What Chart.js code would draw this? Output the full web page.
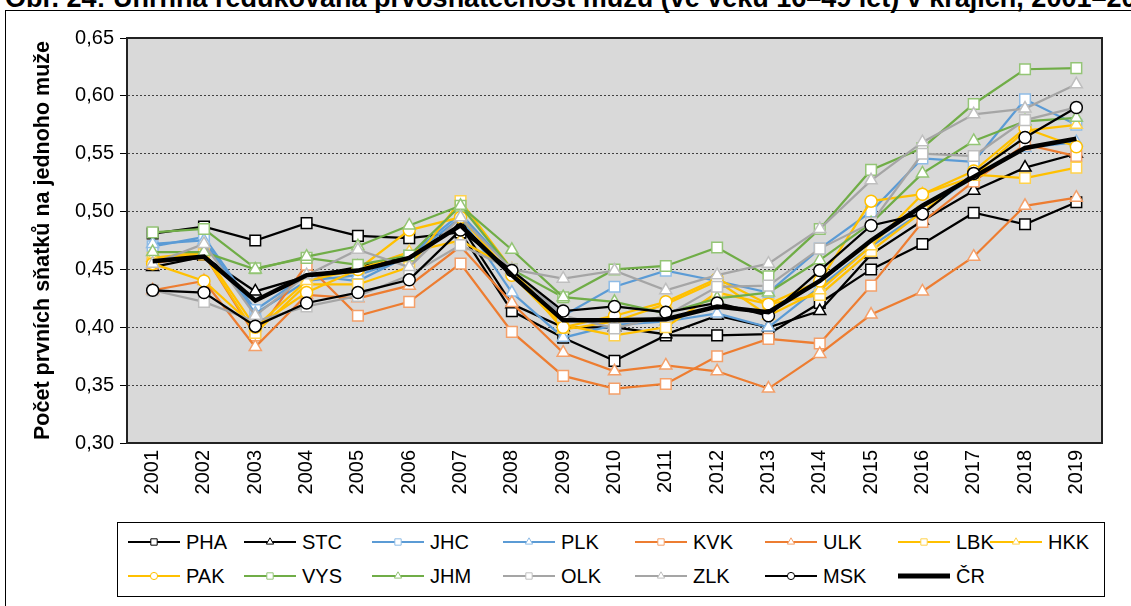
<!DOCTYPE html>
<html>
<head>
<meta charset="utf-8">
<script src="https://cdn.jsdelivr.net/npm/chart.js@4.4.1/dist/chart.umd.min.js"></script>
<style>
body { margin: 0; background: #fff; }
#wrap { position: relative; width: 1131px; height: 606px; overflow: hidden; background: #fff;
        font-family: 'Liberation Sans', Arial, sans-serif; }
#title { position: absolute; left: 5px; top: -17px; line-height: 30px; font-size: 27px; font-weight: bold; white-space: nowrap; }
#frame { position: absolute; left: 5px; top: 10px; width: 1200px; height: 700px; border: 1px solid #000; }
#chart { position: absolute; left: 0; top: 0; }
#legend { position: absolute; left: 117px; top: 522px; width: 986px; height: 73px; border: 1px solid #000; background: #fff; }
.item { position: absolute; height: 20px; display: flex; align-items: center; font-size: 20px; white-space: nowrap; }
.item canvas { margin-right: 6px; }
</style>
</head>
<body>
<div id="wrap">
  <div id="title">Obr. 24: Úhrnná redukovaná prvosňatečnost mužů (ve věku 16–49 let) v krajích, 2001–2019</div>
  <div id="frame"></div>
  <canvas id="chart" width="1131" height="606"></canvas>
  <div id="legend"></div>
</div>
<script>
var years = ['2001', '2002', '2003', '2004', '2005', '2006', '2007', '2008', '2009', '2010',
             '2011', '2012', '2013', '2014', '2015', '2016', '2017', '2018', '2019']

var pha = [0.481, 0.487, 0.475, 0.490, 0.479, 0.477, 0.482, 0.414, 0.391, 0.371, 0.393, 0.393, 0.394, 0.421, 0.450, 0.472, 0.499, 0.489, 0.508]
var stc = [0.452, 0.461, 0.431, 0.444, 0.452, 0.462, 0.488, 0.420, 0.400, 0.400, 0.394, 0.410, 0.400, 0.414, 0.463, 0.492, 0.518, 0.538, 0.550]
var jhc = [0.470, 0.478, 0.415, 0.445, 0.440, 0.462, 0.498, 0.450, 0.410, 0.435, 0.449, 0.440, 0.430, 0.468, 0.500, 0.546, 0.543, 0.597, 0.575]
var plk = [0.472, 0.475, 0.412, 0.440, 0.445, 0.460, 0.495, 0.430, 0.391, 0.402, 0.405, 0.412, 0.400, 0.435, 0.470, 0.500, 0.530, 0.555, 0.560]
var kvk = [0.455, 0.463, 0.393, 0.454, 0.410, 0.422, 0.455, 0.396, 0.358, 0.347, 0.351, 0.375, 0.390, 0.386, 0.436, 0.491, 0.526, 0.558, 0.548]
var ulk = [0.432, 0.440, 0.383, 0.428, 0.425, 0.436, 0.470, 0.421, 0.378, 0.362, 0.367, 0.362, 0.347, 0.377, 0.411, 0.431, 0.461, 0.505, 0.512]
var lbk = [0.460, 0.463, 0.395, 0.437, 0.437, 0.452, 0.509, 0.450, 0.402, 0.393, 0.400, 0.430, 0.420, 0.428, 0.466, 0.500, 0.532, 0.529, 0.538]
var hkk = [0.460, 0.465, 0.400, 0.440, 0.450, 0.465, 0.475, 0.450, 0.398, 0.405, 0.420, 0.440, 0.410, 0.432, 0.470, 0.515, 0.530, 0.570, 0.575]
var pak = [0.455, 0.440, 0.400, 0.430, 0.450, 0.484, 0.495, 0.445, 0.400, 0.410, 0.422, 0.442, 0.420, 0.440, 0.509, 0.515, 0.535, 0.572, 0.556]
var vys = [0.482, 0.485, 0.451, 0.460, 0.454, 0.462, 0.505, 0.450, 0.426, 0.450, 0.453, 0.469, 0.444, 0.485, 0.536, 0.555, 0.593, 0.623, 0.624]
var jhm = [0.465, 0.465, 0.450, 0.461, 0.470, 0.488, 0.505, 0.467, 0.426, 0.422, 0.412, 0.425, 0.430, 0.458, 0.490, 0.533, 0.561, 0.578, 0.581]
var olk = [0.432, 0.422, 0.405, 0.418, 0.427, 0.445, 0.471, 0.450, 0.410, 0.399, 0.410, 0.435, 0.436, 0.468, 0.490, 0.550, 0.548, 0.579, 0.590]
var zlk = [0.455, 0.472, 0.410, 0.445, 0.467, 0.452, 0.495, 0.450, 0.442, 0.449, 0.432, 0.445, 0.455, 0.485, 0.527, 0.560, 0.584, 0.589, 0.610]
var msk = [0.432, 0.430, 0.401, 0.421, 0.430, 0.441, 0.484, 0.449, 0.414, 0.418, 0.413, 0.421, 0.410, 0.449, 0.488, 0.498, 0.533, 0.564, 0.590]
var cr  = [0.457, 0.461, 0.423, 0.445, 0.449, 0.460, 0.488, 0.445, 0.406, 0.406, 0.407, 0.418, 0.413, 0.440, 0.475, 0.505, 0.530, 0.555, 0.563]

var names  = ['PHA', 'STC', 'JHC', 'PLK', 'KVK', 'ULK', 'LBK', 'HKK', 'PAK', 'VYS', 'JHM', 'OLK', 'ZLK', 'MSK', 'ČR']
var series = [pha, stc, jhc, plk, kvk, ulk, lbk, hkk, pak, vys, jhm, olk, zlk, msk, cr]

var yMin = 0.30, yMax = 0.65, yStep = 0.05

// barvy a značky řad
var lineColors   = ['#000000', '#000000', '#5B9BD5', '#5B9BD5', '#ED7D31', '#ED7D31', '#FFC000', '#FFC000',
                    '#FFC000', '#70AD47', '#70AD47', '#A5A5A5', '#A5A5A5', '#000000', '#000000']
var markerColors = ['#000000', '#000000', '#8FBCE6', '#8FBCE6', '#F4A06A', '#F4A06A', '#FFD24D', '#FFD24D',
                    '#FFC000', '#94C576', '#94C576', '#BFBFBF', '#BFBFBF', '#000000', '#000000']
var shapes = ['rect', 'triangle', 'rect', 'triangle', 'rect', 'triangle', 'rect', 'triangle',
              'circle', 'rect', 'triangle', 'rect', 'triangle', 'circle', null]

function markerRadius(shape) {
    if (shape == 'rect') return 7.5
    if (shape == 'triangle') return 7
    if (shape == 'circle') return 6
    return 0
}

var datasets = names.map(function (name, i) {
    return {
        label: name,
        data: series[i],
        borderColor: lineColors[i],
        borderWidth: shapes[i] ? 2.25 : 4.5,
        pointStyle: shapes[i] || 'circle',
        pointRadius: markerRadius(shapes[i]),
        pointHoverRadius: markerRadius(shapes[i]),
        pointBackgroundColor: '#ffffff',
        pointBorderColor: markerColors[i],
        pointBorderWidth: 1.5,
        tension: 0,
        order: -i
    }
})

//Pozadí a rámeček grafu//
var plotFrame = {
    id: 'plotFrame',
    beforeDraw: function (chart) {
        var a = chart.chartArea
        var ctx = chart.ctx
        ctx.save()
        ctx.fillStyle = '#D9D9D9'
        ctx.fillRect(a.left, a.top, a.right - a.left, a.bottom - a.top)
        ctx.restore()
    },
    afterDraw: function (chart) {
        var a = chart.chartArea
        var ctx = chart.ctx
        ctx.save()
        ctx.strokeStyle = '#222'
        ctx.lineWidth = 2
        ctx.strokeRect(a.left, a.top, a.right - a.left, a.bottom - a.top)
        ctx.restore()
    }
}

var ctxChart = document.getElementById('chart')

var chart = new Chart(ctxChart, {
    type: 'line',
    data: {
        labels: years,
        datasets: datasets
    },
    plugins: [plotFrame],
    options: {
        responsive: false,
        animation: false,
        events: [],
        layout: {
            padding: { left: 27, right: 29, top: 38, bottom: 103 }
        },
        plugins: {
            legend: { display: false },
            tooltip: { enabled: false }
        },
        scales: {
            x: {
                offset: true,
                afterFit: function (scale) { scale.height = 60 },
                grid: { display: false, drawTicks: false },
                border: { display: true, color: '#000', width: 2 },
                ticks: {
                    autoSkip: false,
                    minRotation: 90,
                    maxRotation: 90,
                    padding: 7,
                    color: '#000',
                    font: { family: "'Liberation Sans', Arial, sans-serif", size: 20 }
                }
            },
            y: {
                min: yMin,
                max: yMax,
                afterFit: function (scale) { scale.width = 100 },
                grid: {
                    color: '#404040',
                    lineWidth: 1,
                    tickLength: 7,
                    tickColor: '#000',
                    tickWidth: 1
                },
                border: { display: true, color: '#000', width: 2, dash: [2, 2] },
                ticks: {
                    stepSize: yStep,
                    padding: 6,
                    color: '#000',
                    font: { family: "'Liberation Sans', Arial, sans-serif", size: 20 },
                    callback: function (value) {
                        return value.toFixed(2).replace('.', ',')
                    }
                },
                title: {
                    display: true,
                    text: 'Počet prvních sňatků na jednoho muže',
                    color: '#000',
                    padding: { top: 3, bottom: 0 },
                    font: { family: "'Liberation Sans', Arial, sans-serif", size: 21.5, weight: 'bold' }
                }
            }
        }
    }
})

//Legenda//
var legendBox = document.getElementById('legend')
var legendCols = [10, 126, 254, 385, 517, 647, 780, 872]
var legendRows = [9, 43]

chart.data.datasets.forEach(function (ds, i) {
    var item = document.createElement('div')
    item.className = 'item'
    item.style.left = legendCols[i % 8] + 'px'
    item.style.top = legendRows[Math.floor(i / 8)] + 'px'

    var sw = document.createElement('canvas')
    sw.width = 52
    sw.height = 18
    var c = sw.getContext('2d')
    c.strokeStyle = ds.borderColor
    c.lineWidth = ds.borderWidth > 3 ? 5 : 2
    c.beginPath()
    c.moveTo(0, 9)
    c.lineTo(52, 9)
    c.stroke()
    if (ds.pointRadius) {
        c.fillStyle = '#fff'
        c.strokeStyle = ds.pointBorderColor
        c.lineWidth = 1
        Chart.helpers.drawPoint(c, { pointStyle: ds.pointStyle, radius: ds.pointRadius * 0.6, borderWidth: 1, rotation: 0 }, 26, 9)
    }

    var txt = document.createElement('span')
    txt.textContent = ds.label

    item.appendChild(sw)
    item.appendChild(txt)
    legendBox.appendChild(item)
})
</script>
</body>
</html>
